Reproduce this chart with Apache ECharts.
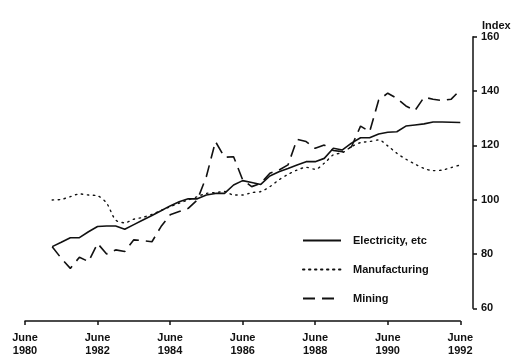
<!DOCTYPE html>
<html>
<head>
<meta charset="utf-8">
<script src="https://cdn.jsdelivr.net/npm/echarts@6/dist/echarts.min.js"></script>
<style>
  html, body { margin: 0; padding: 0; background: #fff; }
  #chart { width: 512px; height: 354px; }
</style>
</head>
<body>
<div id="chart"></div>
<script>
// Quarterly observations, months counted from June 1980 (March 1981 .. June 1992)
const months = [9,12,15,18,21,24,27,30,33,36,39,42,45,48,51,54,57,60,63,66,69,72,75,78,81,84,87,90,93,96,99,102,105,108,111,114,117,120,123,126,129,132,135,138,141,144];

const electricity = [82.7,84.3,86.0,86.0,88.2,90.1,90.3,90.3,89.1,90.8,92.5,94.2,95.9,97.7,99.2,100.3,100.3,101.7,102.3,102.3,105.4,107.0,106.3,105.6,108.7,110.3,111.5,112.8,114.0,114.0,115.2,118.9,118.3,120.8,122.8,122.8,124.2,124.8,125.0,127.1,127.5,127.9,128.6,128.6,128.5,128.4];

const manufacturing = [99.9,100.1,101.1,102.1,101.7,101.4,98.7,92.5,91.5,92.8,93.5,94.6,96.0,97.4,98.7,99.9,101.1,102.3,102.6,103.0,101.7,101.7,102.6,103.0,104.8,107.3,109.3,110.9,111.9,111.2,113.4,116.5,117.3,119.5,121.0,121.4,122.0,119.8,117.1,114.9,113.1,111.5,110.7,110.9,111.8,112.8];

const mining = [82.7,78.4,74.7,78.8,77.2,83.9,80.0,81.5,80.9,85.2,84.9,84.5,90.1,94.4,95.6,96.8,99.9,108.5,121.4,115.6,115.8,107.3,104.8,106.0,109.7,110.9,112.8,122.2,121.4,118.9,120.1,118.1,117.7,119.5,127.1,125.0,136.7,139.2,137.3,134.5,132.8,137.7,137.0,136.5,137.0,140.4];

const seriesNames = ['Electricity, etc', 'Manufacturing', 'Mining'];
const yTicks = { min: 60, max: 160, step: 20 };
const xTicks = { min: 0, max: 144, step: 24, startYear: 1980 };

const pair = vals => months.map((m, i) => [m, vals[i]]);

const font = 'Liberation Sans, Arial, sans-serif';
const ink = '#111';

const chart = echarts.init(document.getElementById('chart'), null, { renderer: 'canvas' });

chart.setOption({
  animation: false,
  backgroundColor: '#fff',
  title: {
    text: 'Index',
    left: 477,
    top: 15,
    textStyle: { fontFamily: font, fontSize: 11, fontWeight: 'bold', color: ink }
  },
  grid: { left: 25, right: 51.7, top: 36.7, bottom: 45.7, containLabel: false, outerBoundsMode: 'none' },
  legend: {
    orient: 'vertical',
    left: 297,
    top: 230,
    itemWidth: 38,
    itemHeight: 10,
    itemGap: 18,
    itemStyle: { opacity: 0 },
    textStyle: { fontFamily: font, fontSize: 11, fontWeight: 'bold', color: ink, padding: [0, 0, 0, 7] },
    data: seriesNames
  },
  xAxis: {
    type: 'value',
    min: xTicks.min,
    max: xTicks.max,
    interval: xTicks.step,
    position: 'bottom',
    offset: 12.7,
    splitLine: { show: false },
    axisLine: { show: true, onZero: false, lineStyle: { color: ink, width: 1.5 } },
    axisTick: { show: true, length: 4, lineStyle: { color: ink, width: 1.5 } },
    axisLabel: {
      margin: 10,
      fontFamily: font,
      fontSize: 11,
      fontWeight: 'bold',
      color: ink,
      lineHeight: 13,
      formatter: v => 'June\n' + (xTicks.startYear + v / 12)
    }
  },
  yAxis: {
    type: 'value',
    min: yTicks.min,
    max: yTicks.max,
    interval: yTicks.step,
    position: 'right',
    offset: 12.7,
    splitLine: { show: false },
    axisLine: { show: true, onZero: false, lineStyle: { color: ink, width: 1.5 } },
    axisTick: { show: true, length: 4, lineStyle: { color: ink, width: 1.5 } },
    axisLabel: { margin: 8, fontFamily: font, fontSize: 11, fontWeight: 'bold', color: ink }
  },
  series: [
    {
      name: seriesNames[0], type: 'line', data: pair(electricity),
      symbol: 'none', color: ink,
      lineStyle: { color: ink, width: 1.6, type: 'solid' }
    },
    {
      name: seriesNames[1], type: 'line', data: pair(manufacturing),
      symbol: 'none', color: ink, smooth: 0.3,
      lineStyle: { color: ink, width: 1.4, type: [1.4, 4.6], cap: 'round' }
    },
    {
      name: seriesNames[2], type: 'line', data: pair(mining),
      symbol: 'none', color: ink,
      lineStyle: { color: ink, width: 1.6, type: [12, 7] }
    }
  ]
});
</script>
</body>
</html>
